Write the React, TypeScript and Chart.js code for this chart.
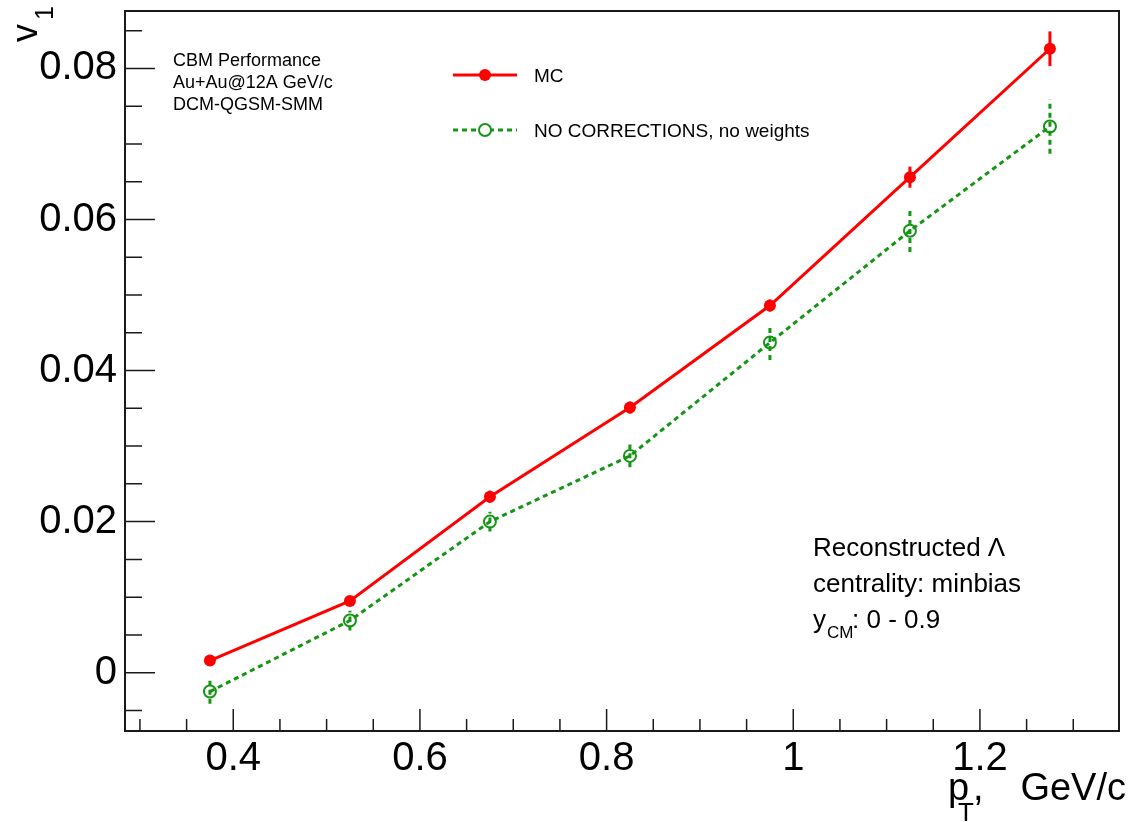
import React, { useEffect, useRef } from "react";
import { Chart, registerables } from "chart.js";

Chart.register(...registerables);

// ---- data ----
const ptBins = [0.375, 0.525, 0.675, 0.825, 0.975, 1.125, 1.275];
const mcV1 = [0.0016, 0.0095, 0.0233, 0.0351, 0.0486, 0.0656, 0.0826];
const mcErr = [0.0005, 0.0005, 0.0008, 0.0008, 0.0008, 0.0014, 0.0023];
const noCorrV1 = [-0.0025, 0.0069, 0.0200, 0.0287, 0.0437, 0.0585, 0.0723];
const noCorrErr = [0.0016, 0.0013, 0.0013, 0.0015, 0.0023, 0.0028, 0.0036];
const xMajorTicks = [0.4, 0.6, 0.8, 1.0, 1.2];
const yMajorTicks = [0, 0.02, 0.04, 0.06, 0.08];
const seriesNames = ["MC", "NO CORRECTIONS, no weights"];
const infoLines = ["CBM Performance", "Au+Au@12A GeV/c", "DCM-QGSM-SMM"];

const RED = "#ff0000";
const GREEN = "#149614";
const FONT = "'Liberation Sans', Arial, Helvetica, sans-serif";
const AX = "#1a1a1a";

const decorPlugin = {
  id: "decor",
  beforeDatasetsDraw(chart: any) {
    const ctx = chart.ctx;
    const xs = chart.scales.x;
    const ys = chart.scales.y;
    const drawErr = (vals: number[], errs: number[], color: string, dash: number[]) => {
      ctx.save();
      ctx.strokeStyle = color;
      ctx.lineWidth = 3;
      ctx.setLineDash(dash);
      for (let i = 0; i < ptBins.length; i++) {
        const px = xs.getPixelForValue(ptBins[i]);
        ctx.beginPath();
        ctx.moveTo(px, ys.getPixelForValue(vals[i] - errs[i]));
        ctx.lineTo(px, ys.getPixelForValue(vals[i] + errs[i]));
        ctx.stroke();
      }
      ctx.restore();
    };
    drawErr(noCorrV1, noCorrErr, GREEN, [5, 4]);
    drawErr(mcV1, mcErr, RED, []);
  },
  afterDatasetsDraw(chart: any) {
    const ctx = chart.ctx;
    const { left, right, top, bottom } = chart.chartArea;
    const xs = chart.scales.x;
    const ys = chart.scales.y;
    ctx.save();
    // frame
    ctx.strokeStyle = AX;
    ctx.lineWidth = 2;
    ctx.strokeRect(left, top, right - left, bottom - top);
    // ticks
    ctx.lineWidth = 1.5;
    ctx.beginPath();
    for (let k = -1; k <= 17; k++) {
      const v = k * 0.005;
      const py = ys.getPixelForValue(v);
      if (py < top + 2 || py > bottom - 2) continue;
      const major = k % 4 === 0;
      ctx.moveTo(left, py);
      ctx.lineTo(left + (major ? 30 : 17), py);
    }
    for (let k = 6; k <= 26; k++) {
      const v = k * 0.05;
      const px = xs.getPixelForValue(v);
      if (px < left + 2 || px > right - 2) continue;
      const major = k % 4 === 0;
      ctx.moveTo(px, bottom);
      ctx.lineTo(px, bottom - (major ? 22 : 12));
    }
    ctx.stroke();

    // info text top-left
    ctx.fillStyle = "#000";
    ctx.textAlign = "left";
    ctx.textBaseline = "alphabetic";
    ctx.font = `18px ${FONT}`;
    infoLines.forEach((t, i) => ctx.fillText(t, 173, 66 + i * 22));

    // legend
    const lx0 = 453, lx1 = 517, lmx = 485;
    ctx.strokeStyle = RED;
    ctx.lineWidth = 3;
    ctx.beginPath();
    ctx.moveTo(lx0, 75);
    ctx.lineTo(lx1, 75);
    ctx.stroke();
    ctx.fillStyle = RED;
    ctx.beginPath();
    ctx.arc(lmx, 75, 6, 0, Math.PI * 2);
    ctx.fill();
    ctx.strokeStyle = GREEN;
    ctx.setLineDash([5, 4]);
    ctx.beginPath();
    ctx.moveTo(lx0, 130);
    ctx.lineTo(lx1, 130);
    ctx.stroke();
    ctx.setLineDash([]);
    ctx.lineWidth = 2;
    ctx.fillStyle = "#fff";
    ctx.beginPath();
    ctx.arc(lmx, 130, 6, 0, Math.PI * 2);
    ctx.fill();
    ctx.stroke();
    ctx.fillStyle = "#000";
    ctx.font = `19px ${FONT}`;
    ctx.fillText(seriesNames[0], 534, 82);
    ctx.fillText(seriesNames[1], 534, 137);

    // bottom-right text
    ctx.font = `26px ${FONT}`;
    ctx.fillText("Reconstructed \u039B", 813, 556);
    ctx.fillText("centrality: minbias", 813, 592);
    ctx.fillText("y", 813, 628);
    ctx.font = `17px ${FONT}`;
    ctx.fillText("CM", 827, 638);
    ctx.font = `26px ${FONT}`;
    ctx.fillText(": 0 - 0.9", 852, 628);

    // x title
    ctx.font = `38px ${FONT}`;
    ctx.fillText("p", 948, 800);
    ctx.font = `26px ${FONT}`;
    ctx.fillText("T", 958, 821);
    ctx.font = `38px ${FONT}`;
    ctx.fillText(",", 973, 800);
    ctx.textAlign = "right";
    ctx.fillText("GeV/c", 1126, 800);

    // y title (rotated)
    ctx.textAlign = "left";
    ctx.translate(37, 42);
    ctx.rotate(-Math.PI / 2);
    ctx.font = `36px ${FONT}`;
    ctx.fillText("v", 0, 0);
    ctx.font = `25px ${FONT}`;
    ctx.fillText("1", 22, 16);
    ctx.restore();
  },
};

export default function App() {
  const ref = useRef<HTMLCanvasElement>(null);
  useEffect(() => {
    document.body.style.margin = "0";
    const canvas = ref.current!;
    const chart = new Chart(canvas, {
      type: "scatter",
      data: {
        datasets: [
          {
            label: seriesNames[1],
            data: ptBins.map((x, i) => ({ x, y: noCorrV1[i] })),
            showLine: true,
            borderColor: GREEN,
            borderWidth: 3,
            borderDash: [5, 4],
            pointRadius: 6,
            pointBorderWidth: 2,
            pointBorderColor: GREEN,
            pointBackgroundColor: "rgba(0,0,0,0)",
          },
          {
            label: seriesNames[0],
            data: ptBins.map((x, i) => ({ x, y: mcV1[i] })),
            showLine: true,
            borderColor: RED,
            borderWidth: 3,
            pointRadius: 6,
            pointBorderWidth: 0,
            pointBackgroundColor: RED,
          },
        ],
      },
      options: {
        animation: false,
        responsive: false,
        devicePixelRatio: 1,
        layout: { padding: { top: 11, right: 17, left: 0, bottom: 0 } },
        plugins: { legend: { display: false }, tooltip: { enabled: false } },
        scales: {
          x: {
            type: "linear",
            min: 0.284,
            max: 1.349,
            grid: { display: false, drawTicks: false },
            border: { display: false },
            afterBuildTicks: (axis: any) => {
              axis.ticks = xMajorTicks.map((v) => ({ value: v }));
            },
            afterFit: (axis: any) => {
              axis.height = 91;
              axis.paddingLeft = 0;
              axis.paddingRight = 0;
            },
            ticks: {
              autoSkip: false,
              maxRotation: 0,
              padding: 4,
              color: "#000",
              font: { family: FONT, size: 40 },
              callback: (v: any) => String(Number(Number(v).toFixed(2))),
            },
          },
          y: {
            type: "linear",
            min: -0.00772,
            max: 0.0876,
            grid: { display: false, drawTicks: false },
            border: { display: false },
            afterBuildTicks: (axis: any) => {
              axis.ticks = yMajorTicks.map((v) => ({ value: v }));
            },
            afterFit: (axis: any) => {
              axis.width = 125;
              axis.paddingTop = 0;
              axis.paddingBottom = 0;
            },
            ticks: {
              autoSkip: false,
              padding: 8,
              color: "#000",
              font: { family: FONT, size: 40 },
              callback: (v: any) => String(Number(Number(v).toFixed(3))),
            },
          },
        },
      },
      plugins: [decorPlugin],
    });
    return () => chart.destroy();
  }, []);
  return (
    <canvas
      ref={ref}
      width={1136}
      height={822}
      style={{ display: "block", width: 1136, height: 822 }}
    />
  );
}
